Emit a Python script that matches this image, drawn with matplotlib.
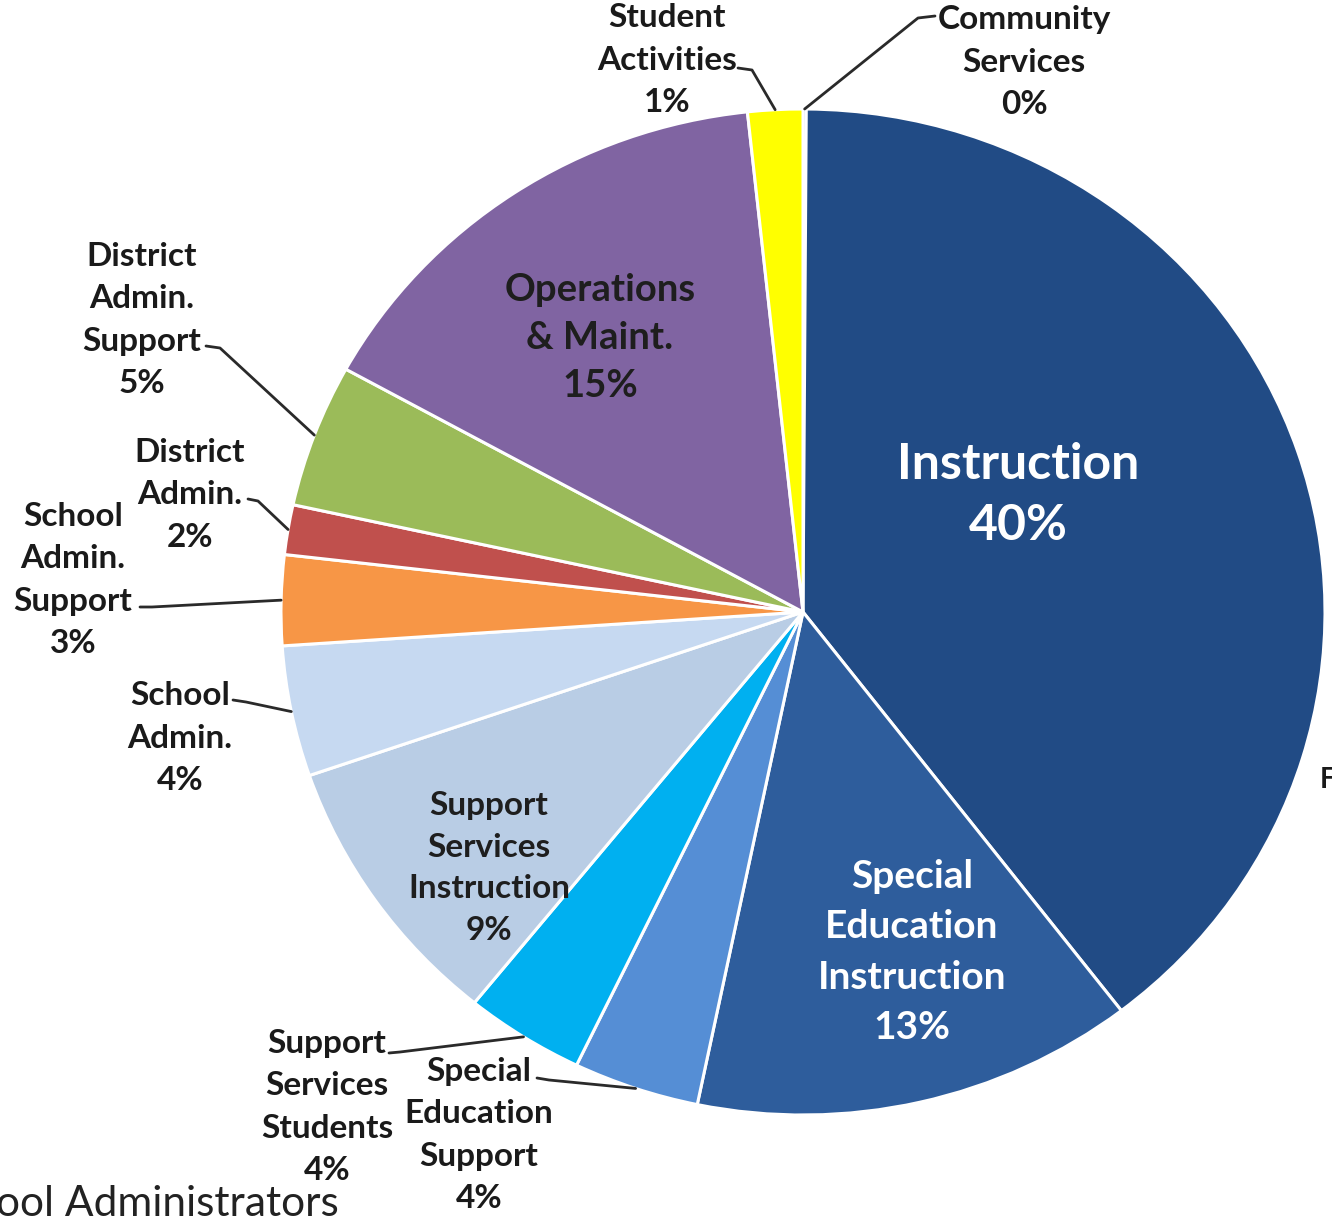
import numpy as np
import matplotlib.pyplot as plt

# spending shares, clockwise from 12 o'clock
categories = ['Community Services', 'Instruction', 'Special Education Instruction',
              'Special Education Support', 'Support Services Students',
              'Support Services Instruction', 'School Admin.', 'School Admin. Support',
              'District Admin.', 'District Admin. Support', 'Operations & Maint.',
              'Student Activities']
shares = [0.1, 39.5, 13.7, 3.9, 3.7, 8.9, 4.2, 2.9, 1.6, 4.6, 15.3, 1.7]
pct_labels = [0, 40, 13, 4, 4, 9, 4, 3, 2, 5, 15, 1]
label_text = ['Community\nServices', 'Instruction', 'Special\nEducation\nInstruction',
              'Special\nEducation\nSupport', 'Support\nServices\nStudents',
              'Support\nServices\nInstruction', 'School\nAdmin.', 'School\nAdmin.\nSupport',
              'District\nAdmin.', 'District\nAdmin.\nSupport', 'Operations\n& Maint.',
              'Student\nActivities']
colors = ['#1F4E8C', '#214B85', '#2E5D9C', '#558ED5', '#00B0F0', '#B9CDE5',
          '#C6D9F1', '#F79646', '#C0504D', '#9BBB59', '#8064A2', '#FFFF00']

W, H = 1332, 1218
CX, CY, RX, RY = 803, 612, 522, 503

fig = plt.figure(figsize=(W / 100, H / 100), dpi=100)
ax = fig.add_axes([0, 0, 1, 1])
wedges, _ = ax.pie(shares, colors=colors, startangle=90, counterclock=False,
                   wedgeprops=dict(edgecolor='white', linewidth=2.2))
ax.set_aspect('auto')
ax.set_xlim(-CX / RX, (W - CX) / RX)
ax.set_ylim(-(H - CY) / RY, CY / RY)
ax.axis('off')


def d(px, py):
    # pixel position -> data coords
    return (px - CX) / RX, (CY - py) / RY


def rim(w):
    a = np.deg2rad((w.theta1 + w.theta2) / 2)
    return np.cos(a), np.sin(a)


font = 'Lato'

# labels inside the pie: index, pixel centre, size, colour, line spacing
inside = [(1, (1018, 495), 36, 'white', 1.45),
          (2, (912, 952), 28, 'white', 1.52),
          (10, (600, 338), 27.5, '#1e1e1e', 1.51),
          (5, (489, 868), 24, '#1e1e1e', 1.52)]
for i, (px, py), fs, c, ls in inside:
    ax.text(*d(px, py), f'{label_text[i]}\n{pct_labels[i]}%', ha='center', va='center',
            fontsize=fs, fontweight='bold', color=c, linespacing=ls, family=font)

# labels outside with leader lines: index, pixel centre, leader start, elbow
outside = [(11, (667, 60), (738, 68), (752, 70)),
           (0, (1024, 62), (935, 16), (918, 18)),
           (9, (142, 320), (206, 346), (220, 348)),
           (8, (190, 495), (248, 499), (258, 501)),
           (7, (73, 580), (140, 607), (152, 607)),
           (6, (180, 738), (233, 700), (246, 702)),
           (4, (327, 1107), (389, 1053), (400, 1052)),
           (3, (479, 1135), (537, 1078), (549, 1080))]
for i, (px, py), start, elbow in outside:
    ax.text(*d(px, py), f'{label_text[i]}\n{pct_labels[i]}%', ha='center', va='center',
            fontsize=24, fontweight='bold', color='#1a1a1a', linespacing=1.55, family=font)
    ex, ey = rim(wedges[i])
    xs = [d(*start)[0], d(*elbow)[0], ex]
    ys = [d(*start)[1], d(*elbow)[1], ey]
    ax.plot(xs, ys, color='#2a2a2a', lw=2, solid_capstyle='round')

# leftover text from the surrounding slide
ax.text(*d(-4, 1216), 'ool Administrators', ha='left', va='baseline', fontsize=30.5,
        fontweight='normal', color='#222222', family=font)
ax.text(*d(1320, 780), 'F', ha='left', va='center', fontsize=20, fontweight='bold',
        color='#1a1a1a', family=font)

fig.savefig('out.png', dpi=100)
